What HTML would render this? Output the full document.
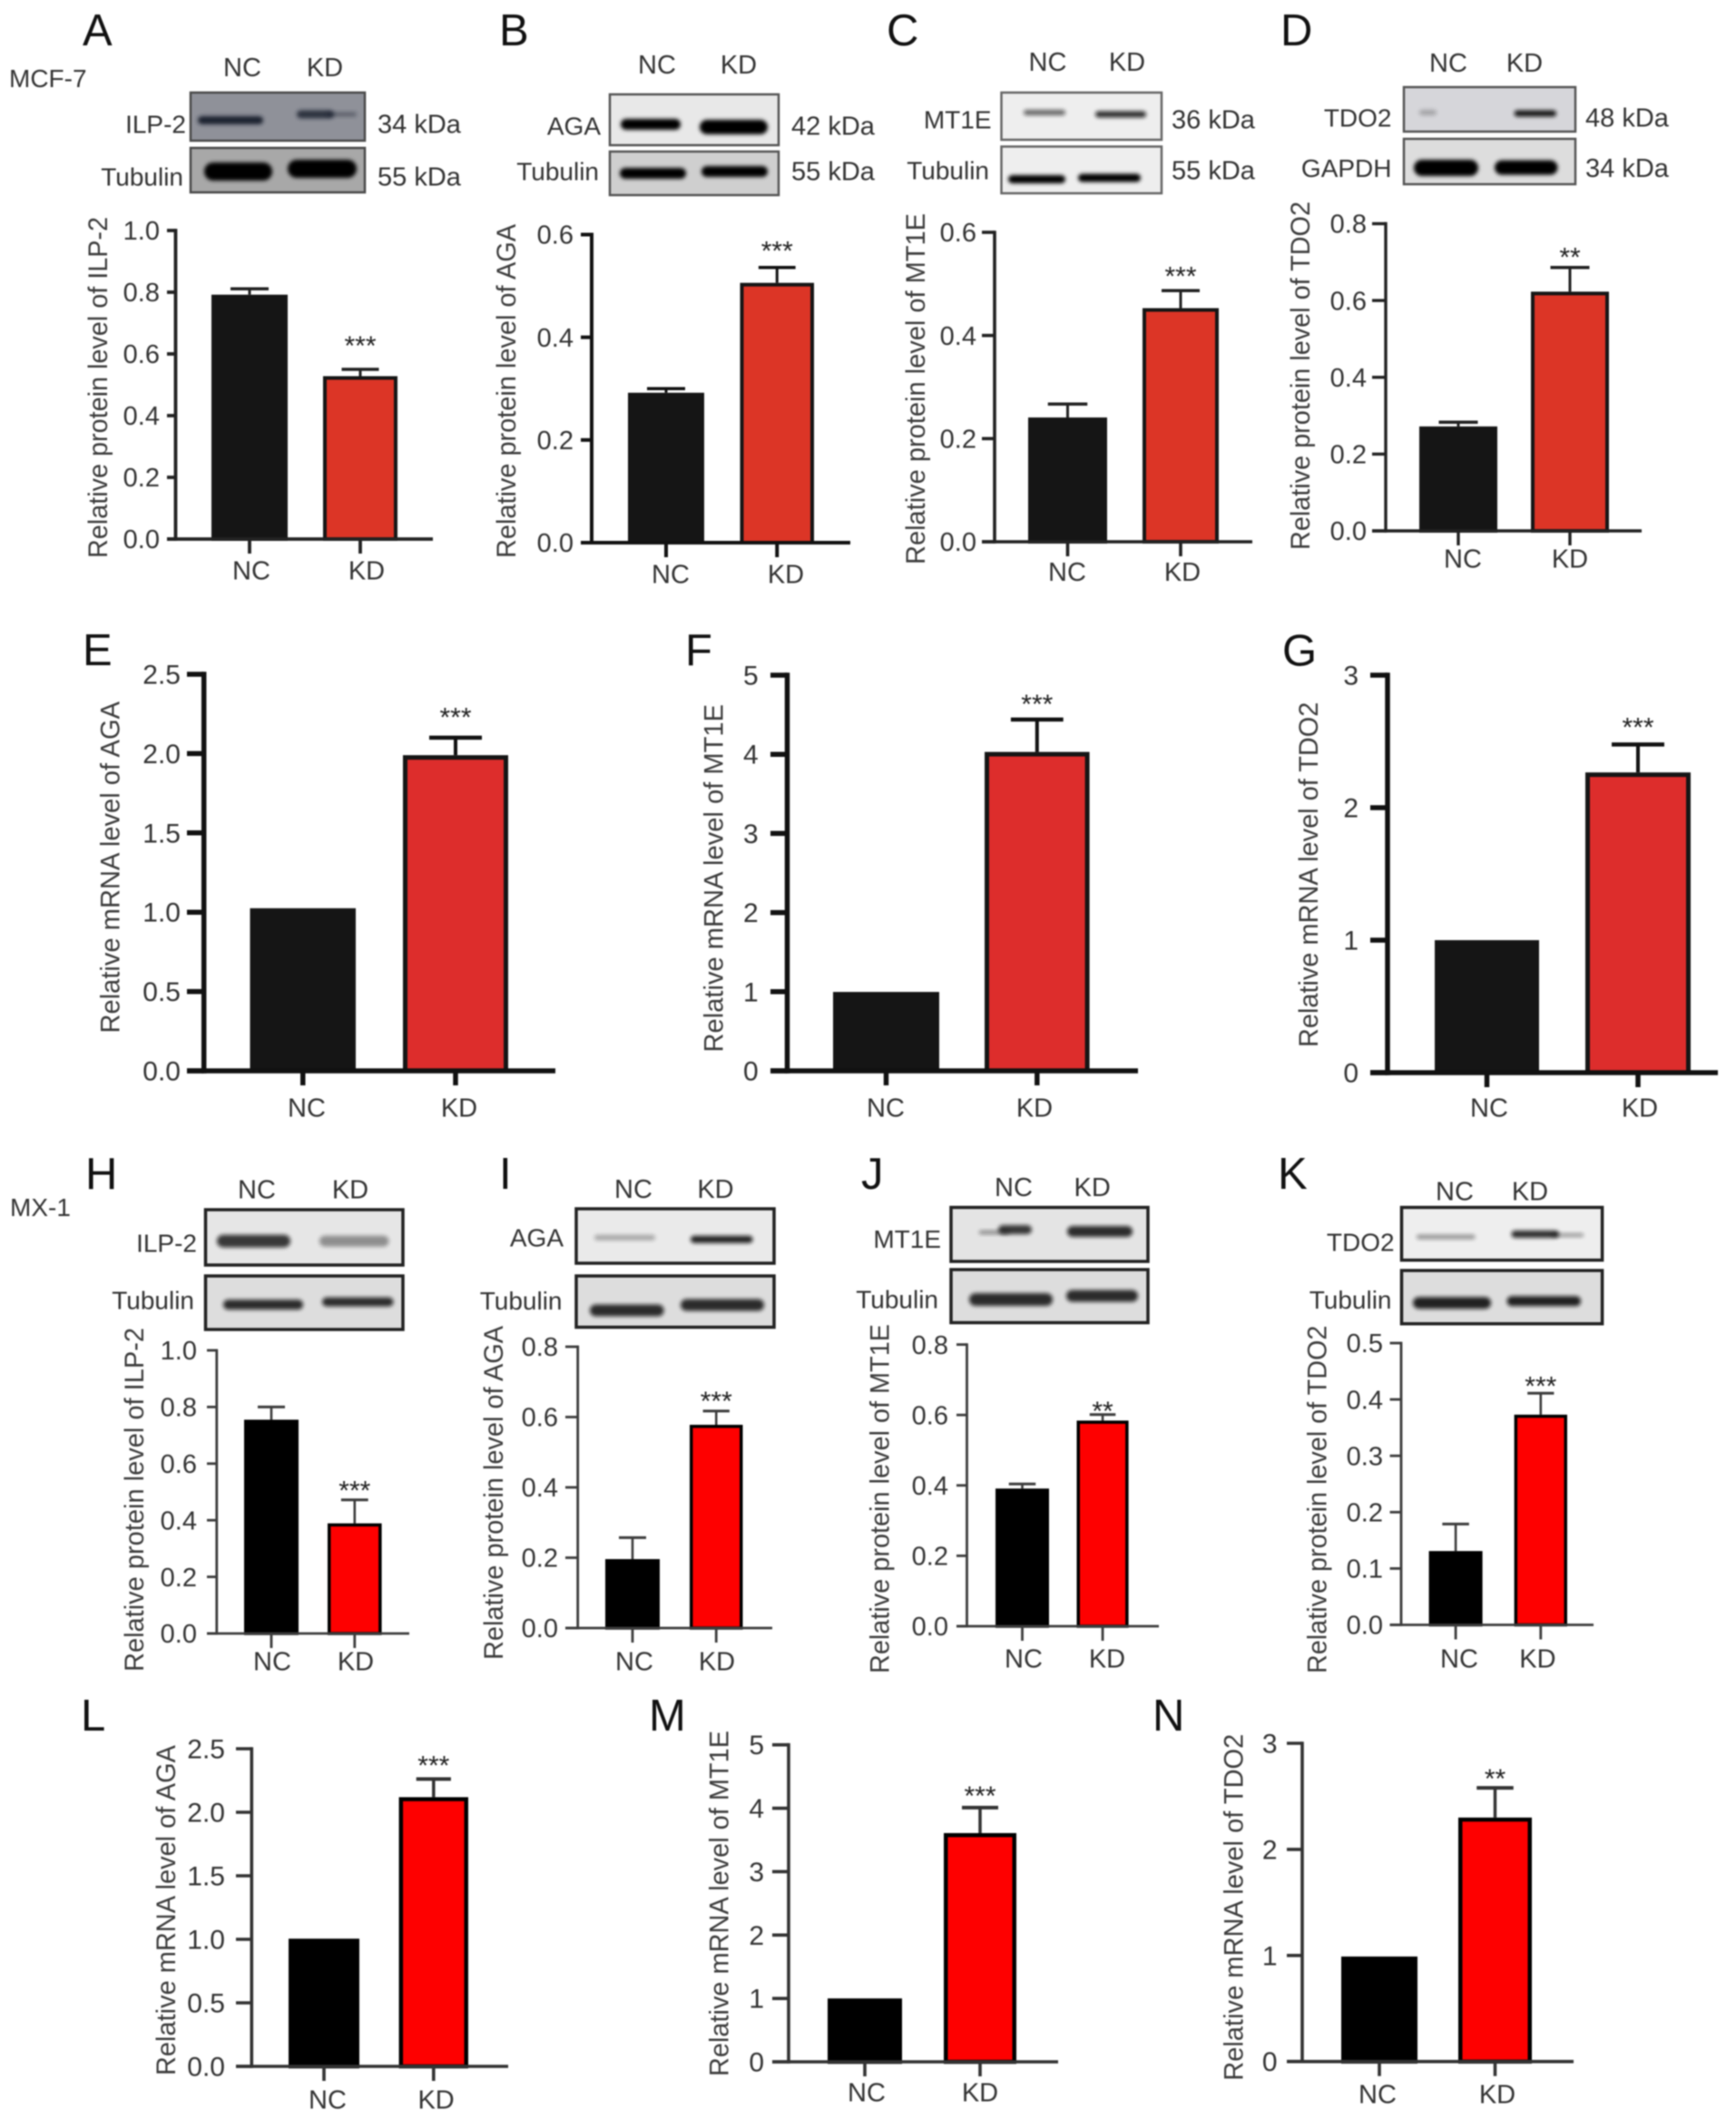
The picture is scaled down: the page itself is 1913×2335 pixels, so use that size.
<!DOCTYPE html>
<html lang="en">
<head>
<meta charset="utf-8">
<title>ILP-2, AGA, MT1E and TDO2 levels in MCF-7 and MX-1 cells</title>
<style>
html,body{margin:0;padding:0;background:#fff}
svg{display:block;filter:blur(.8px);font-family:"Liberation Sans",Arial,sans-serif}
</style>
</head>
<body>
<svg id="figure" xmlns="http://www.w3.org/2000/svg" width="1913" height="2335" viewBox="0 0 1913 2335">
  <defs>
    <filter id="band-blur" x="-20%" y="-80%" width="140%" height="260%"><feGaussianBlur stdDeviation="2.2"/></filter>
  </defs>
  <rect width="1913" height="2335" fill="#ffffff"/>
  <text x="10" y="96" font-size="28" fill="#333">MCF-7</text>
  <text x="11" y="1340" font-size="28" fill="#333">MX-1</text>
</svg>
<script>
// ---- chart data ----
const panelIds = ['A','B','C','D','E','F','G','H','I','J','K','L','M','N'];
const categories = ['NC','KD'];
const yTitles = [
  'Relative protein level of ILP-2','Relative protein level of AGA','Relative protein level of MT1E','Relative protein level of TDO2',
  'Relative mRNA level of AGA','Relative mRNA level of MT1E','Relative mRNA level of TDO2',
  'Relative protein level of ILP-2','Relative protein level of AGA','Relative protein level of MT1E','Relative protein level of TDO2',
  'Relative mRNA level of AGA','Relative mRNA level of MT1E','Relative mRNA level of TDO2'
];
const tickLabels = [
  ['0.0','0.2','0.4','0.6','0.8','1.0'],
  ['0.0','0.2','0.4','0.6'],
  ['0.0','0.2','0.4','0.6'],
  ['0.0','0.2','0.4','0.6','0.8'],
  ['0.0','0.5','1.0','1.5','2.0','2.5'],
  ['0','1','2','3','4','5'],
  ['0','1','2','3'],
  ['0.0','0.2','0.4','0.6','0.8','1.0'],
  ['0.0','0.2','0.4','0.6','0.8'],
  ['0.0','0.2','0.4','0.6','0.8'],
  ['0.0','0.1','0.2','0.3','0.4','0.5'],
  ['0.0','0.5','1.0','1.5','2.0','2.5'],
  ['0','1','2','3','4','5'],
  ['0','1','2','3']
];
const ncMeans = [0.792,0.292,0.241,0.272,1.025,0.997,1.0,0.755,0.196,0.391,0.131,1.005,1.0,0.99];
const kdMeans = [0.528,0.506,0.453,0.623,1.99,4.03,2.266,0.389,0.578,0.584,0.373,2.119,3.608,2.30];
const ncUpper = [0.811,0.30,0.267,0.283,null,null,null,0.80,0.257,0.404,0.179,null,null,null];
const kdUpper = [0.55,0.536,0.487,0.686,2.10,4.44,2.477,0.472,0.617,0.601,0.411,2.262,4.01,2.58];
const significance = ['***','***','***','**','***','***','***','***','***','**','***','***','***','**'];

// ---- plot frames (layout only) ----
const RED1 = '#dc3526', RED2 = '#dd2d2c', RED3 = '#fe0000', INK1 = '#151515', INK3 = '#000';
const frames = [
 {ax:193.5,top:254,y0:594,x0:184,x1:477,nc:[233,317],kd:[356,438],lab:[277,404],laby:628,tickR:176,tickFs:29,title:[107,239,615],gap:33,letter:[91,50],w:3.8,sw:4,red:RED1,ink:INK1,line:'#222'},
 {ax:652,top:258.5,y0:598,x0:640,x1:937,nc:[692,776],kd:[815.5,897],lab:[739,866],laby:632,tickR:632,tickFs:29,title:[557,247,615],gap:25,letter:[550,50],w:4,sw:4,red:RED1,ink:INK1,line:'#111'},
 {ax:1096,top:256,y0:597,x0:1082,x1:1380,nc:[1133,1220],kd:[1259,1343],lab:[1176,1303],laby:629.5,tickR:1076,tickFs:29,title:[1008,235,622],gap:22.5,letter:[977,50],w:3.6,sw:4,red:RED1,ink:INK1,line:'#222'},
 {ax:1527,top:246.5,y0:585,x0:1512,x1:1809,nc:[1564,1650],kd:[1687,1773],lab:[1612,1730],laby:615,tickR:1506,tickFs:29,title:[1432,222,606],gap:18,letter:[1411,50],w:3.4,sw:4,red:RED1,ink:INK1,line:'#222'},
 {ax:224.7,top:743,y0:1180,x0:206,x1:612,nc:[275.5,392],kd:[444,560],lab:[338,506],laby:1220,tickR:199,tickFs:30,title:[120.6,773,1138.5],gap:29.6,letter:[91,733],w:5.5,sw:5,red:RED2,ink:INK1,line:'#111'},
 {ax:867.5,top:744,y0:1180,x0:849,x1:1254,nc:[918,1035],kd:[1085,1200.6],lab:[976,1140],laby:1220,tickR:835.7,tickFs:30,title:[785.5,776,1159.5],gap:23.6,letter:[755,733],w:5.5,sw:5,red:RED2,ink:INK1,line:'#111'},
 {ax:1529,top:744,y0:1182,x0:1510,x1:1893,nc:[1581,1696],kd:[1747,1863],lab:[1641,1807],laby:1220,tickR:1497,tickFs:30,title:[1441,773.6,1154],gap:25.7,letter:[1413,733.5],w:5.5,sw:5,red:RED2,ink:INK1,line:'#111'},
 {ax:238.8,top:1488,y0:1800,x0:228,x1:451,nc:[269,329],kd:[361,420.6],lab:[300,392],laby:1830,tickR:217,tickFs:29,title:[147,1463,1842],gap:17,letter:[94,1310],w:2.8,sw:3.5,red:RED3,ink:INK3,line:'#3c3c3c'},
 {ax:636.7,top:1484,y0:1794,x0:623,x1:851,nc:[667,727],kd:[760,818.5],lab:[699,790],laby:1830,tickR:615,tickFs:29,title:[543,1461,1829],gap:18,letter:[550,1310],w:2.8,sw:3.5,red:RED3,ink:INK3,line:'#3c3c3c'},
 {ax:1065.5,top:1481.6,y0:1792,x0:1054,x1:1277,nc:[1097,1156],kd:[1186.5,1243.6],lab:[1128,1220],laby:1827,tickR:1045,tickFs:29,title:[968.4,1459,1844],gap:11,letter:[949,1310],w:2.8,sw:3.5,red:RED3,ink:INK3,line:'#3c3c3c'},
 {ax:1544,top:1480,y0:1790.5,x0:1531.6,x1:1756,nc:[1574.6,1633.6],kd:[1668.6,1727],lab:[1608,1694.4],laby:1827,tickR:1524,tickFs:29,title:[1450.6,1460.6,1844],gap:15,letter:[1408,1310],w:2.8,sw:3.5,red:RED3,ink:INK3,line:'#3c3c3c'},
 {ax:277.3,top:1927,y0:2277,x0:260,x1:560,nc:[318,396],kd:[439.6,516],lab:[361,480.6],laby:2313,tickR:248,tickFs:30,title:[182,1923,2287],gap:21.7,letter:[89,1907],w:3.6,sw:4.5,red:RED3,ink:INK3,line:'#333'},
 {ax:869,top:1922.7,y0:2272,x0:851,x1:1166,nc:[912,994],kd:[1040,1120],lab:[955,1080],laby:2305,tickR:842,tickFs:30,title:[791.6,1907,2288],gap:19.7,letter:[715,1907],w:3.6,sw:4.5,red:RED3,ink:INK3,line:'#333'},
 {ax:1435,top:1921,y0:2271.7,x0:1418,x1:1734,nc:[1478,1562],kd:[1607,1688],lab:[1518,1650],laby:2307,tickR:1407.5,tickFs:30,title:[1358.5,1910.7,2292.7],gap:17,letter:[1270,1907],w:3.6,sw:4.5,red:RED3,ink:INK3,line:'#333'}
];

// ---- western blot insets: picture approximations, not chart data ----
const blots = [
 {panel:'A',edge:'#4a4a4a',ew:2.5,head:[[267,73.5],[358,73.5]],rows:[
   {label:'ILP-2',lx:205,kda:'34 kDa',kx:416,ty:136,box:[210,102,402,155],fill:'#8f9199',bands:[[218,290,132.5,4.5,.95,'#161c2a'],[327,368,126,4.5,.8,'#161c2a'],[360,393,126,2.5,.4,'#161c2a',1]]},
   {label:'Tubulin',lx:202,kda:'55 kDa',kx:416,ty:194,box:[210,163,402,212],fill:'#a8a8a8',bands:[[225,300,189,10,1,'#000'],[317,393,186,10,1,'#000']]}]},
 {panel:'B',edge:'#555',ew:2.5,head:[[724,70.5],[814,70.5]],rows:[
   {label:'AGA',lx:662,kda:'42 kDa',kx:872,ty:138,box:[672,104,858,160],fill:'#e8e8e8',bands:[[684,750,137,6,1,'#000'],[771,846,140,8,1,'#000']]},
   {label:'Tubulin',lx:660,kda:'55 kDa',kx:872,ty:188,box:[672,167,858,215],fill:'#cfcfcf',bands:[[683,756,191,6,1,'#000'],[773,846,189,6,1,'#000']]}]},
 {panel:'C',edge:'#666',ew:2.5,head:[[1154.5,67.5],[1242,67.5]],rows:[
   {label:'MT1E',lx:1092.5,kda:'36 kDa',kx:1291,ty:131,box:[1103.5,102,1280,154],fill:'#eeeeee',bands:[[1128,1174,124,3,.6,'#111'],[1207,1263,126,3.5,.85,'#111']]},
   {label:'Tubulin',lx:1090,kda:'55 kDa',kx:1291,ty:187,box:[1103.5,161.5,1280,213],fill:'#eeeeee',bands:[[1111,1174,197.5,4.5,1,'#000'],[1188,1257,196,4.5,1,'#000']]}]},
 {panel:'D',edge:'#555',ew:2.5,head:[[1596,68.4],[1680,68.4]],rows:[
   {label:'TDO2',lx:1533.5,kda:'48 kDa',kx:1747,ty:129,box:[1547,96,1736,145],fill:'#d6d6da',bands:[[1564,1583,124,3,.25,'#111'],[1668.6,1715,125,3.5,.95,'#111']]},
   {label:'GAPDH',lx:1533.5,kda:'34 kDa',kx:1747,ty:184.5,box:[1547,153,1736,203],fill:'#dddddd',bands:[[1558,1629,185,9,1,'#000'],[1647,1716.5,184.6,8,1,'#000']]}]},
 {panel:'H',edge:'#222',ew:3.5,head:[[283,1310],[386,1310]],rows:[
   {label:'ILP-2',lx:217,kda:'',kx:0,ty:1369,box:[226.5,1333,444,1394],fill:'#e6e6e6',bands:[[239,320,1367.6,7,.8,'#111'],[352,428.5,1367.6,6,.4,'#111']]},
   {label:'Tubulin',lx:214,kda:'',kx:0,ty:1432,box:[226.5,1406,444,1465],fill:'#dddddd',bands:[[246,334,1437.6,5.5,.85,'#111'],[355,433.5,1434.6,5,.85,'#111']]}]},
 {panel:'I',edge:'#222',ew:3.5,head:[[698,1309.4],[788.5,1309.4]],rows:[
   {label:'AGA',lx:621,kda:'',kx:0,ty:1363,box:[635,1332,853,1392],fill:'#eaeaea',bands:[[655,722,1363.8,3,.3,'#111'],[761,829.5,1365.7,4,.9,'#111']]},
   {label:'Tubulin',lx:619.5,kda:'',kx:0,ty:1432.6,box:[635,1406,853,1462.5],fill:'#dddddd',bands:[[650,731.6,1444,6.5,.85,'#111'],[750,842,1438,6.5,.85,'#111']]}]},
 {panel:'J',edge:'#222',ew:3.5,head:[[1117,1307.5],[1203.7,1307.5]],rows:[
   {label:'MT1E',lx:1037,kda:'',kx:0,ty:1364.5,box:[1048,1330.5,1265,1390],fill:'#e4e4e4',bands:[[1100,1137,1355,5,.8,'#111'],[1176,1248,1357,6,.85,'#111'],[1079,1112,1358,2,.45,'#111',0]]},
   {label:'Tubulin',lx:1034,kda:'',kx:0,ty:1431,box:[1048,1399,1265,1457.5],fill:'#dddddd',bands:[[1068,1160,1432,7,.85,'#111'],[1175,1254,1428,6.5,.85,'#111']]}]},
 {panel:'K',edge:'#222',ew:3.5,head:[[1603,1312],[1686,1312]],rows:[
   {label:'TDO2',lx:1536.6,kda:'',kx:0,ty:1368,box:[1544.5,1330.5,1765.6,1388.6],fill:'#eeeeee',bands:[[1561,1625.6,1363,2.5,.4,'#111'],[1665.5,1718,1360,4,.85,'#111'],[1710,1745,1361,2,.4,'#111',1]]},
   {label:'Tubulin',lx:1533.5,kda:'',kx:0,ty:1431.5,box:[1544.5,1400,1765.6,1458.7],fill:'#dddddd',bands:[[1557,1643,1435.7,6.5,.9,'#111'],[1660.6,1742,1433.8,5.5,.9,'#111']]}]}
];

const NS = 'http://www.w3.org/2000/svg';
const svg = document.getElementById('figure');

function make(parent, tag, attrs, content){
  const el = document.createElementNS(NS, tag);
  for (const k in attrs) el.setAttribute(k, attrs[k]);
  if (content !== undefined) el.textContent = content;
  parent.appendChild(el);
  return el;
}
function yScale(frame, labels){
  const max = parseFloat(labels[labels.length - 1]);
  return v => frame.y0 - (v / max) * (frame.y0 - frame.top);
}

function drawBar(g, id, i, f, y, mean, upper){
  const cat = categories[i];
  const span = i === 0 ? f.nc : f.kd;
  const cx = (span[0] + span[1]) / 2;
  const width = span[1] - span[0];
  const topY = y(mean);
  if (upper !== null){
    const upY = y(upper);
    const stem = make(g, 'line', {x1:cx, x2:cx, y1:upY, y2:topY, stroke:f.line, 'stroke-width':Math.max(2.6, f.sw - 1)});
    
    
    const cap = make(g, 'line', {x1:cx - width / 4, x2:cx + width / 4, y1:upY, y2:upY, stroke:f.line, 'stroke-width':Math.max(3, f.sw - .5)});
    
    
  }
  const h = Math.max(0, f.y0 - topY);
  const inset = f.sw / 2;
  const bar = make(g, 'rect', {
    x:span[0] + inset, y:topY + inset, width:width - f.sw, height:Math.max(0, h - inset),
    fill:i === 0 ? f.ink : f.red, stroke:f.ink, 'stroke-width':f.sw
  });
  
  
}

function drawPanel(idx){
  const id = panelIds[idx].toLowerCase();
  const f = frames[idx];
  const labels = tickLabels[idx];
  const y = yScale(f, labels);

  const g = make(svg, 'g', {});
  
  

  const letter = make(g, 'text', {x:f.letter[0], y:f.letter[1], 'font-size':49, fill:'#111'}, panelIds[idx]);
  
  

  const t = f.title;
  const title = make(g, 'text', {
    transform:'translate(' + (t[0] + 11) + ',' + t[2] + ') rotate(-90)',
    'font-size':30, fill:'#3c3c3c', textLength:t[2] - t[1], lengthAdjust:'spacingAndGlyphs'
  }, yTitles[idx]);
  
  

  drawBar(g, id, 0, f, y, ncMeans[idx], ncUpper[idx]);
  drawBar(g, id, 1, f, y, kdMeans[idx], kdUpper[idx]);

  const yAxis = make(g, 'line', {x1:f.ax, x2:f.ax, y1:f.top - f.w / 2, y2:f.y0 + f.w / 2, stroke:f.line, 'stroke-width':f.w});
  
  

  const xAxis = make(g, 'line', {x1:f.x0, x2:f.x1, y1:f.y0, y2:f.y0, stroke:f.line, 'stroke-width':f.w});
  
  

  labels.forEach(lab => {
    const ty = y(parseFloat(lab));
    const tick = make(g, 'line', {x1:f.x0, x2:f.ax, y1:ty, y2:ty, stroke:f.line, 'stroke-width':f.w});
    
    
    const text = make(g, 'text', {x:f.tickR, y:ty + f.tickFs * .35, 'text-anchor':'end', 'font-size':f.tickFs, fill:'#333'}, lab);
    
    
  });

  categories.forEach((cat, i) => {
    const span = i === 0 ? f.nc : f.kd;
    const cx = (span[0] + span[1]) / 2;
    const tick = make(g, 'line', {x1:cx, x2:cx, y1:f.y0, y2:f.y0 + 16, stroke:f.line, 'stroke-width':f.w});
    
    
    const text = make(g, 'text', {x:f.lab[i], y:f.laby + 10.5, 'text-anchor':'middle', 'font-size':29, fill:'#333'}, cat);
    
    
  });

  const kdCx = (f.kd[0] + f.kd[1]) / 2;
  const star = make(g, 'text', {x:kdCx, y:y(kdUpper[idx]) - f.gap + 17, 'text-anchor':'middle', 'font-size':30, fill:'#222'}, significance[idx]);
  
  
}

function drawBlot(b){
  const id = b.panel.toLowerCase();
  const g = make(svg, 'g', {});
  
  
  b.head.forEach((h, i) => {
    const cat = categories[i];
    const t = make(g, 'text', {x:h[0], y:h[1] + 10.5, 'text-anchor':'middle', 'font-size':29, fill:'#333'}, cat);
    
    
  });
  b.rows.forEach((r, ri) => {
    const slug = r.label.toLowerCase();
    const bx = r.box;
    const clipId = 'clip-' + id + '-' + ri;
    const defs = make(g, 'clipPath', {id:clipId});
    make(defs, 'rect', {x:bx[0], y:bx[1], width:bx[2] - bx[0], height:bx[3] - bx[1]});
    const bg = make(g, 'rect', {x:bx[0], y:bx[1], width:bx[2] - bx[0], height:bx[3] - bx[1], fill:r.fill});
    
    
    const bandGroup = make(g, 'g', {'clip-path':'url(#' + clipId + ')'});
    r.bands.forEach((bd, bi) => {
      const lane = bd[6] === undefined ? bi : bd[6];
      const band = make(bandGroup, 'rect', {
        x:bd[0], y:bd[2] - bd[3], width:bd[1] - bd[0], height:bd[3] * 2, rx:bd[3], ry:bd[3],
        fill:bd[5], opacity:bd[4], filter:'url(#band-blur)'
      });
      
      
    });
    const frame = make(g, 'rect', {x:bx[0], y:bx[1], width:bx[2] - bx[0], height:bx[3] - bx[1], fill:'none', stroke:b.edge, 'stroke-width':b.ew});
    
    
    const lab = make(g, 'text', {x:r.lx, y:r.ty + 10.5, 'text-anchor':'end', 'font-size':28, fill:'#333'}, r.label);
    
    
    if (r.kda){
      const kd = make(g, 'text', {x:r.kx, y:r.ty + 10.5, 'font-size':29, fill:'#333'}, r.kda);
      
      
    }
  });
}

panelIds.forEach((_, i) => drawPanel(i));
blots.forEach(drawBlot);
</script>
</body>
</html>
